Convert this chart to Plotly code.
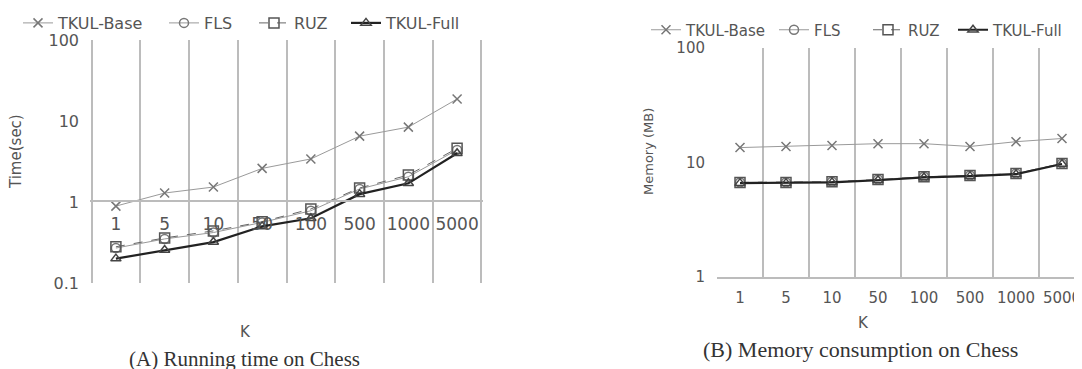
import plotly.graph_objects as go

W, H = 1082, 369
OFF = 8  # page body margin offset

K = ["1", "5", "10", "50", "100", "500", "1000", "5000"]

time_base = [0.89, 1.29, 1.53, 2.6, 3.4, 6.5, 8.4, 18.7]
time_fls = [0.27, 0.35, 0.42, 0.56, 0.78, 1.45, 2.05, 4.4]
time_ruz = [0.28, 0.36, 0.44, 0.57, 0.82, 1.49, 2.15, 4.6]
time_full = [0.20, 0.255, 0.32, 0.50, 0.63, 1.25, 1.7, 4.0]

mem_base = [13.5, 13.8, 14.1, 14.6, 14.6, 13.8, 15.2, 16.2]
mem_fls = [6.7, 6.7, 6.8, 7.1, 7.5, 7.7, 8.0, 9.8]
mem_ruz = [6.7, 6.7, 6.8, 7.1, 7.5, 7.7, 8.0, 9.8]
mem_full = [6.6, 6.6, 6.7, 7.0, 7.4, 7.6, 7.9, 9.7]

names = ["TKUL-Base", "FLS", "RUZ", "TKUL-Full"]


def px(x):
    return (x - OFF) / W


def py(y):
    return 1 - (y - OFF) / H


styles = [
    dict(line=dict(color="#9a9a9a", width=1), marker=dict(symbol="x-thin", size=9, color="#777", line=dict(color="#777", width=1.5))),
    dict(line=dict(color="#999", width=1), marker=dict(symbol="circle-open", size=9, color="#777", line=dict(color="#777", width=1.5))),
    dict(line=dict(color="#666", width=1, dash="dash"), marker=dict(symbol="square-open", size=10, color="#555", line=dict(color="#555", width=1.5))),
    dict(line=dict(color="#222", width=2.2), marker=dict(symbol="triangle-up-open", size=9, color="#444", line=dict(color="#444", width=1.5))),
]

fig = go.Figure()

# legend text start positions (px) and centre y (px)
legA_text_x = [57, 203, 293, 385]
legB_text_x = [685, 813, 907, 992]
legA_y, legB_y = 23, 30
TXT = 39

for i, (vals, st) in enumerate(zip([time_base, time_fls, time_ruz, time_full], styles)):
    fig.add_trace(go.Scatter(x=K, y=vals, mode="lines+markers", name=names[i],
                             xaxis="x", yaxis="y", legend=f"legend{i + 2}", **st))
for i, (vals, st) in enumerate(zip([mem_base, mem_fls, mem_ruz, mem_full], styles)):
    fig.add_trace(go.Scatter(x=K, y=vals, mode="lines+markers", name=names[i],
                             xaxis="x2", yaxis="y2", legend=f"legend{i + 6}", **st))

legends = {}
for i in range(4):
    legends[f"legend{i + 2}"] = dict(x=px(legA_text_x[i] - TXT), y=py(legA_y), xanchor="left", yanchor="middle",
                                     orientation="h", font=dict(family="DejaVu Sans", size=16, color="#555"),
                                     bgcolor="rgba(0,0,0,0)", itemwidth=30)
    legends[f"legend{i + 6}"] = dict(x=px(legB_text_x[i] - TXT), y=py(legB_y), xanchor="left", yanchor="middle",
                                     orientation="h", font=dict(family="DejaVu Sans", size=15, color="#555"),
                                     bgcolor="rgba(0,0,0,0)", itemwidth=30)

grid_col = "#bcbcbc"

fig.update_layout(
    width=W, height=H, autosize=False,
    margin=dict(l=0, r=0, t=0, b=0, autoexpand=False),
    paper_bgcolor="white", plot_bgcolor="white",
    showlegend=True,
    xaxis=dict(domain=[px(90), px(483)], anchor="free", position=py(201), type="category",
               tickson="boundaries", showgrid=True, gridcolor=grid_col, gridwidth=2,
               showline=True, linecolor=grid_col, linewidth=2, ticks="", zeroline=False, automargin=False,
               tickangle=0,
               tickfont=dict(family="DejaVu Sans", size=17, color="#555"), ticklabelstandoff=8),
    yaxis=dict(domain=[py(283), py(40)], anchor="x", type="log", range=[-1, 2],
               tickvals=[0.1, 1, 10, 100], ticktext=["0.1", "1", "10", "100"], automargin=False,
               showgrid=False, showline=False, zeroline=False, ticks="",
               tickfont=dict(family="DejaVu Sans", size=16, color="#555"), ticklabelstandoff=10),
    xaxis2=dict(domain=[px(717), 1.0], anchor="y2", type="category",
                range=[-0.5, -0.5 + (W + OFF - 717) / 46],
                tickson="boundaries", showgrid=True, gridcolor=grid_col, gridwidth=2, automargin=False,
                showline=True, linecolor=grid_col, linewidth=2, ticks="", zeroline=False, tickangle=0,
                tickfont=dict(family="DejaVu Sans", size=15, color="#555"), ticklabelstandoff=6),
    yaxis2=dict(domain=[py(277), py(48)], anchor="x2", type="log", range=[0, 2],
                tickvals=[1, 10, 100], ticktext=["1", "10", "100"], automargin=False,
                showgrid=False, showline=False, zeroline=False, ticks="",
                tickfont=dict(family="DejaVu Sans", size=15, color="#555"), ticklabelstandoff=11),
    **legends,
)

annots = [
    dict(text="Time(sec)", x=px(16), y=py(152), textangle=-90, font=dict(family="DejaVu Sans", size=15, color="#555")),
    dict(text="K", x=px(245), y=py(332), font=dict(family="DejaVu Sans", size=15, color="#555")),
    dict(text="(A) Running time on Chess", x=px(244), y=py(359), font=dict(family="Liberation Serif", size=21, color="#333")),
    dict(text="Memory (MB)", x=px(648), y=py(152), textangle=-90, font=dict(family="DejaVu Sans", size=13, color="#555")),
    dict(text="K", x=px(863), y=py(323), font=dict(family="DejaVu Sans", size=15, color="#555")),
    dict(text="(B) Memory consumption on Chess", x=px(860), y=py(349), font=dict(family="Liberation Serif", size=22, color="#333")),
]
for a in annots:
    fig.add_annotation(xref="paper", yref="paper", showarrow=False, xanchor="center", yanchor="middle", **a)

fig.write_html("out.html")
